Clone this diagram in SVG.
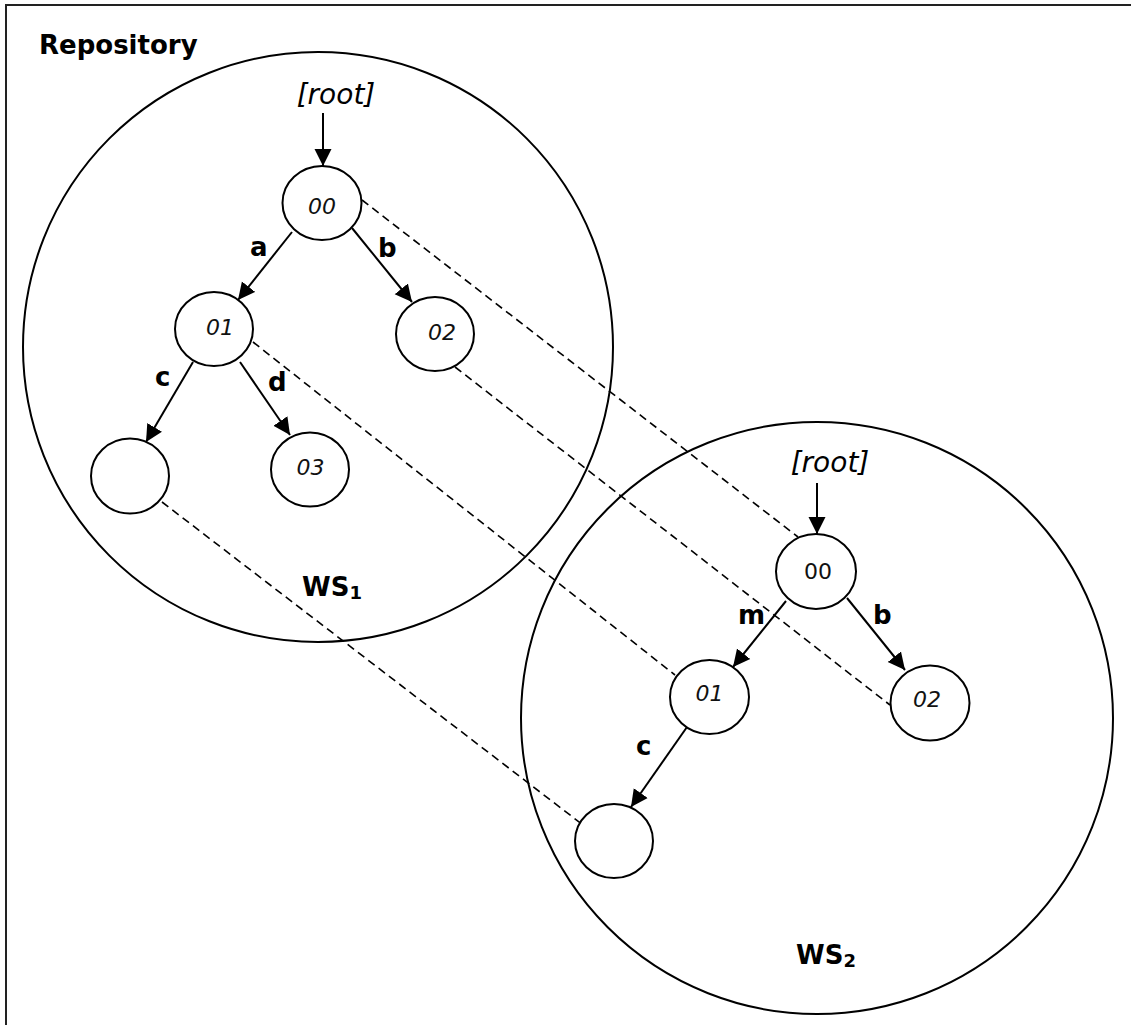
<svg xmlns="http://www.w3.org/2000/svg" width="1131" height="1025" viewBox="0 0 1131 1025">
<style>
.frame{fill:none;stroke:#222;stroke-width:2}
.ws{fill:none;stroke:#000;stroke-width:2}
.node{fill:#fff;stroke:#000;stroke-width:2}
.edge{stroke:#000;stroke-width:2;fill:none;marker-end:url(#arr)}
.dash{stroke:#000;stroke-width:1.6;stroke-dasharray:8 5;fill:none}
.nt{font-family:"DejaVu Sans",Verdana,sans-serif;font-size:22px;font-style:italic;fill:#111;text-anchor:middle}
.nu{font-family:"DejaVu Sans",Verdana,sans-serif;font-size:22px;fill:#111;text-anchor:middle}
.lbl{font-family:"DejaVu Sans",Verdana,sans-serif;font-size:26px;font-weight:bold;fill:#000}
.root{font-family:"DejaVu Sans",Verdana,sans-serif;font-size:28px;font-style:italic;fill:#000;text-anchor:middle}
</style>
<defs>
<marker id="arr" viewBox="0 0 16 16" refX="16" refY="8" markerWidth="17" markerHeight="18" markerUnits="userSpaceOnUse" orient="auto">
<path d="M0,0 L16,8 L0,16 z" fill="#000"/>
</marker>
</defs>
<rect width="1131" height="1025" fill="#fff"/>
<g id="frame">
<path class="frame" d="M6,1025 L6,5 L1131,5"/>
<text class="lbl" x="39" y="54">Repository</text>
</g>
<g id="ws1">
<circle class="ws" cx="318" cy="347" r="295"/>
<text class="lbl" x="302" y="596">WS<tspan font-size="18" dy="3">1</tspan></text>
</g>
<g id="ws2">
<circle class="ws" cx="817" cy="718" r="296"/>
<text class="lbl" x="796" y="964">WS<tspan font-size="18" dy="3">2</tspan></text>
</g>
<g id="connectors">
<line class="dash" x1="362" y1="200" x2="798" y2="537"/>
<line class="dash" x1="253" y1="342" x2="675" y2="675"/>
<line class="dash" x1="455" y1="367" x2="890" y2="705"/>
<line class="dash" x1="162" y1="502" x2="583" y2="825"/>
<line class="edge" x1="323" y1="113" x2="323" y2="166"/>
<line class="edge" x1="292" y1="232" x2="238" y2="300"/>
<line class="edge" x1="352" y1="228" x2="412" y2="302"/>
<line class="edge" x1="193" y1="362" x2="146" y2="442"/>
<line class="edge" x1="240" y1="362" x2="290" y2="435"/>
<line class="edge" x1="817" y1="483" x2="817" y2="534"/>
<line class="edge" x1="786" y1="601" x2="733" y2="667"/>
<line class="edge" x1="847" y1="598" x2="905" y2="670"/>
<line class="edge" x1="687" y1="727" x2="631" y2="807"/>
<text class="lbl" x="250" y="256">a</text>
<text class="lbl" x="378" y="257">b</text>
<text class="lbl" x="155" y="386">c</text>
<text class="lbl" x="268" y="391">d</text>
<text class="lbl" x="738" y="624">m</text>
<text class="lbl" x="873" y="624">b</text>
<text class="lbl" x="636" y="755">c</text>
</g>
<g id="root1"><text class="root" x="336" y="104">[root]</text></g>
<g id="root2"><text class="root" x="830" y="472">[root]</text></g>
<g id="n1_00"><ellipse class="node" cx="322" cy="203" rx="39.5" ry="37"/><text class="nt" x="322" y="214">00</text></g>
<g id="n1_01"><ellipse class="node" cx="214" cy="329" rx="39" ry="37"/><text class="nt" x="220" y="335">01</text></g>
<g id="n1_02"><ellipse class="node" cx="435" cy="334" rx="39" ry="37"/><text class="nt" x="442" y="340">02</text></g>
<g id="n1_e"><ellipse class="node" cx="130" cy="476" rx="39" ry="37.5"/></g>
<g id="n1_03"><ellipse class="node" cx="310" cy="469.5" rx="39" ry="37"/><text class="nt" x="310.5" y="475">03</text></g>
<g id="n2_00"><ellipse class="node" cx="816" cy="571.5" rx="40" ry="37.5"/><text class="nu" x="818" y="579">00</text></g>
<g id="n2_01"><ellipse class="node" cx="709.5" cy="697" rx="39.5" ry="37"/><text class="nt" x="709.5" y="701">01</text></g>
<g id="n2_02"><ellipse class="node" cx="930" cy="703" rx="39.5" ry="37.5"/><text class="nt" x="927" y="707">02</text></g>
<g id="n2_e"><ellipse class="node" cx="614" cy="841" rx="39" ry="37"/></g>
</svg>
